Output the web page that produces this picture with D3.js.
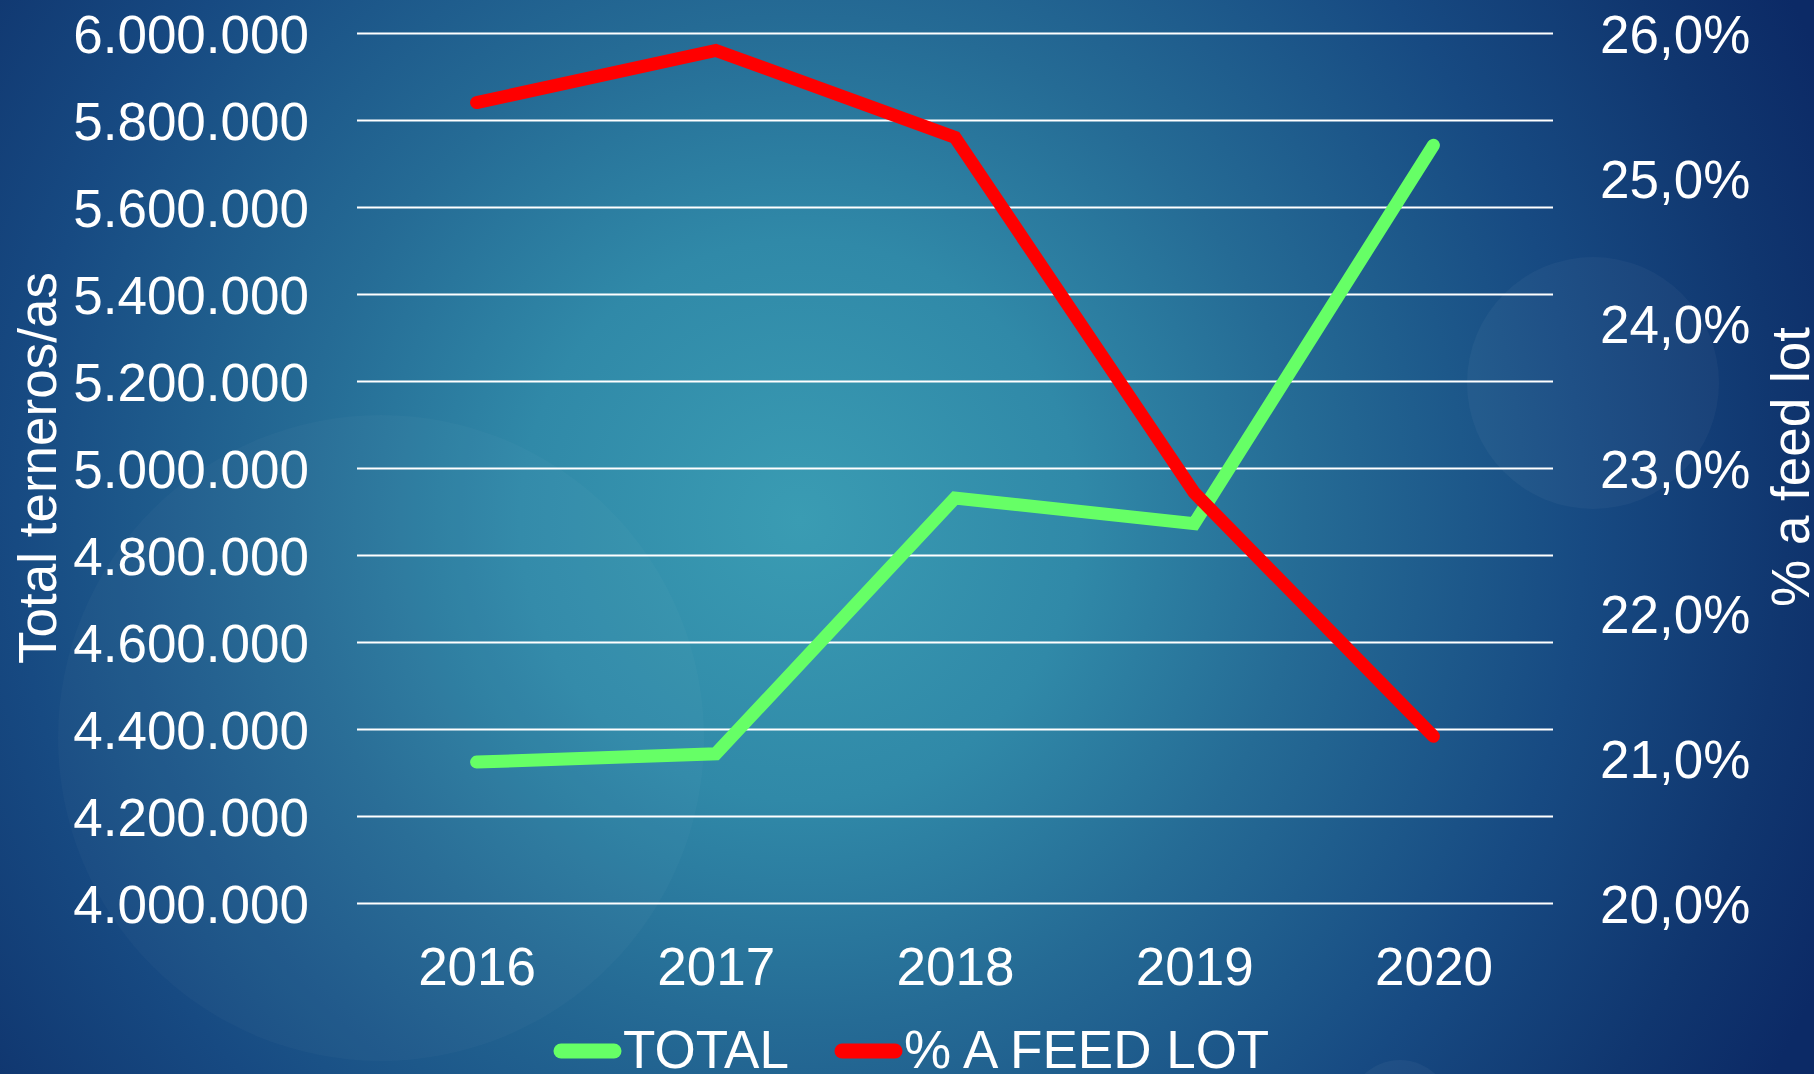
<!DOCTYPE html>
<html>
<head>
<meta charset="utf-8">
<script src="https://cdn.jsdelivr.net/npm/d3@7"></script>
<style>
  html, body { margin: 0; padding: 0; background: #0c2a68; }
  svg { display: block; }
  text { font-family: "Liberation Sans", Arial, sans-serif; fill: #ffffff; }
</style>
</head>
<body>
<div id="chart"></div>
<script>
/* data */
const years = ["2016", "2017", "2018", "2019", "2020"];
const totalValues = [4324000, 4343000, 4931000, 4872000, 5742000];
const feedlotValues = [0.2552, 0.2588, 0.2528, 0.2283, 0.2115];
const leftTicks = [4000000, 4200000, 4400000, 4600000, 4800000, 5000000,
                   5200000, 5400000, 5600000, 5800000, 6000000];
const rightTicks = [0.20, 0.21, 0.22, 0.23, 0.24, 0.25, 0.26];
const seriesNames = ["TOTAL", "% A FEED LOT"];
const seriesColors = ["#66ff66", "#ff0000"];

/* page dimensions */
let width = 1814;
let height = 1074;
let margin = {top: 33, bottom: 171, left: 357, right: 261};
let pWidth = width - margin.left - margin.right;
let pHeight = height - margin.top - margin.bottom;

const es = d3.formatLocale({decimal: ",", thousands: ".", grouping: [3], currency: ["", "€"]});

let svg = d3.select("#chart").append("svg")
            .attr("width", width)
            .attr("height", height);

// background gradient + faint circles
let defs = svg.append("defs");
let grad = defs.append("radialGradient")
               .attr("id", "bg")
               .attr("gradientUnits", "userSpaceOnUse")
               .attr("cx", 800).attr("cy", 520).attr("r", 1120);
[[0, "#3a9cb3"], [0.25, "#3089a8"], [0.45, "#256b95"], [0.7, "#174a82"],
 [0.88, "#10366f"], [1, "#0c2a66"]].forEach(s => {
  grad.append("stop").attr("offset", s[0]).attr("stop-color", s[1]);
});
svg.append("rect").attr("width", width).attr("height", height).attr("fill", "url(#bg)");

svg.append("circle").attr("cx", 381).attr("cy", 738).attr("r", 323)
   .attr("fill", "#ffffff").attr("fill-opacity", 0.022);
svg.append("circle").attr("cx", 1593).attr("cy", 383).attr("r", 126)
   .attr("fill", "#ffffff").attr("fill-opacity", 0.035);
svg.append("circle").attr("cx", 1400).attr("cy", 1112).attr("r", 52)
   .attr("fill", "#ffffff").attr("fill-opacity", 0.04);

let x = d3.scalePoint()
          .domain(years)
          .range([0, pWidth])
          .padding(0.5);

let yLeft = d3.scaleLinear()
              .domain([4000000, 6000000])
              .range([pHeight, 0]);

let yRight = d3.scaleLinear()
               .domain([0.20, 0.26])
               .range([pHeight, 0]);

let g = svg.append("g")
           .attr("transform", `translate(${margin.left}, ${margin.top})`);

// gridlines + left labels
let leftAxis = g.append("g")
                .call(d3.axisLeft(yLeft)
                        .tickValues(leftTicks)
                        .tickSize(-pWidth)
                        .tickPadding(48)
                        .tickFormat(es.format(",d")));
leftAxis.select(".domain").remove();
leftAxis.selectAll(".tick line")
        .attr("stroke", "#ffffff")
        .attr("stroke-width", 2);
leftAxis.selectAll(".tick text")
        .attr("font-size", 53)
        .attr("dy", "0.36em")
        .style("font-family", "'Liberation Sans', Arial, sans-serif")
        .attr("fill", "#ffffff");

// right labels
let rightAxis = g.append("g")
                 .attr("transform", `translate(${pWidth}, 0)`)
                 .call(d3.axisRight(yRight)
                         .tickValues(rightTicks)
                         .tickSize(0)
                         .tickPadding(47)
                         .tickFormat(es.format(".1%")));
rightAxis.select(".domain").remove();
rightAxis.selectAll(".tick text")
         .attr("font-size", 53)
         .attr("dy", "0.36em")
         .style("font-family", "'Liberation Sans', Arial, sans-serif")
         .attr("fill", "#ffffff");

// x labels
let xAxis = g.append("g")
             .attr("transform", `translate(0, ${pHeight})`)
             .call(d3.axisBottom(x).tickSize(0).tickPadding(44));
xAxis.select(".domain").remove();
xAxis.selectAll(".tick text")
     .attr("font-size", 53)
     .attr("dy", "0.71em")
     .style("font-family", "'Liberation Sans', Arial, sans-serif")
     .attr("fill", "#ffffff");

// axis titles
svg.append("text")
   .attr("transform", "translate(56, 468) rotate(-90)")
   .attr("text-anchor", "middle")
   .attr("font-size", 53)
   .text("Total terneros/as");

svg.append("text")
   .attr("transform", "translate(1809, 467) rotate(-90)")
   .attr("text-anchor", "middle")
   .attr("font-size", 53)
   .text("% a feed lot");

// lines
let totalLine = d3.line()
                  .x((d, i) => x(years[i]))
                  .y(d => yLeft(d));
let feedLine = d3.line()
                 .x((d, i) => x(years[i]))
                 .y(d => yRight(d));

g.append("path")
 .attr("d", totalLine(totalValues))
 .attr("fill", "none")
 .attr("stroke", seriesColors[0])
 .attr("stroke-width", 13)
 .attr("stroke-linecap", "round")
 .attr("stroke-linejoin", "miter");

g.append("path")
 .attr("d", feedLine(feedlotValues))
 .attr("fill", "none")
 .attr("stroke", seriesColors[1])
 .attr("stroke-width", 13)
 .attr("stroke-linecap", "round")
 .attr("stroke-linejoin", "miter");

// legend
let legendX = [561, 842];
let legend = svg.append("g");
seriesNames.forEach((name, i) => {
  legend.append("line")
        .attr("x1", legendX[i]).attr("x2", legendX[i] + 53)
        .attr("y1", 1051).attr("y2", 1051)
        .attr("stroke", seriesColors[i])
        .attr("stroke-width", 15)
        .attr("stroke-linecap", "round");
  legend.append("text")
        .attr("x", legendX[i] + 62)
        .attr("y", 1068)
        .attr("font-size", 53)
        .text(name);
});
</script>
</body>
</html>
